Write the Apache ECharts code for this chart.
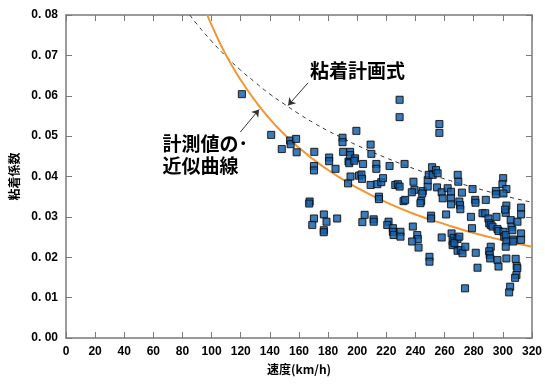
<!DOCTYPE html>
<html>
<head>
<meta charset="utf-8">
<script src="https://cdn.jsdelivr.net/npm/echarts@6/dist/echarts.min.js"></script>
<style>
  html, body { margin: 0; padding: 0; background: #fff; }
  #chart { width: 545px; height: 388px; }
</style>
</head>
<body>
<div id="chart"></div>
<script>
// 計測値 (速度 km/h, 粘着係数)
const measured = [
  [120.8, 0.0604],
  [140.9, 0.0503], [148.2, 0.0468], [153.9, 0.0489], [154.3, 0.0480], [158.0, 0.0493], [158.4, 0.0460],
  [170.5, 0.0461], [170.3, 0.0426], [170.3, 0.0415], [167.3, 0.0338], [167.0, 0.0333],
  [170.3, 0.0296], [169.1, 0.0280], [177.1, 0.0306], [178.9, 0.0288], [177.1, 0.0267], [177.0, 0.0262],
  [186.2, 0.0296], [180.7, 0.0447], [180.7, 0.0438], [185.1, 0.0419],
  [189.9, 0.0496], [189.9, 0.0485], [190.3, 0.0461],
  [194.0, 0.0437], [194.5, 0.0433], [193.7, 0.0383], [195.1, 0.0461], [195.1, 0.0453], [195.4, 0.0400],
  [199.4, 0.0513], [198.5, 0.0445], [198.0, 0.0439],
  [201.2, 0.0402], [202.9, 0.0405], [203.3, 0.0394], [204.0, 0.0431],
  [209.2, 0.0479], [209.7, 0.0456], [209.2, 0.0379],
  [213.1, 0.0431], [213.1, 0.0419], [213.8, 0.0381], [216.5, 0.0386], [217.7, 0.0396],
  [214.9, 0.0350], [214.9, 0.0344],
  [205.1, 0.0305], [203.5, 0.0287], [211.3, 0.0294], [211.3, 0.0288],
  [221.5, 0.0288], [220.6, 0.0280], [222.2, 0.0426], [224.5, 0.0272], [224.5, 0.0263], [225.0, 0.0255],
  [226.1, 0.0379], [227.9, 0.0381], [229.1, 0.0375],
  [229.1, 0.0590], [229.1, 0.0547], [229.7, 0.0263], [229.7, 0.0251],
  [232.5, 0.0431], [231.8, 0.0339], [232.9, 0.0342],
  [238.2, 0.0276], [238.6, 0.0387], [239.3, 0.0367], [237.5, 0.0361],
  [241.2, 0.0255], [241.6, 0.0245], [237.7, 0.0239], [242.1, 0.0224],
  [243.9, 0.0339], [243.4, 0.0334], [245.0, 0.0364], [244.6, 0.0358],
  [248.4, 0.0375], [248.4, 0.0391], [249.1, 0.0404], [251.4, 0.0423], [251.8, 0.0404],
  [254.1, 0.0416], [255.2, 0.0408], [254.8, 0.0373],
  [250.7, 0.0303], [250.7, 0.0296], [249.6, 0.0201], [249.6, 0.0189],
  [256.4, 0.0530], [256.4, 0.0508], [258.0, 0.0361], [258.7, 0.0346], [258.0, 0.0249],
  [261.0, 0.0306], [262.1, 0.0371], [264.4, 0.0362], [264.4, 0.0346], [264.4, 0.0331],
  [264.8, 0.0259], [266.2, 0.0248], [265.5, 0.0239], [265.5, 0.0230], [268.9, 0.0245], [266.7, 0.0235],
  [268.9, 0.0216], [269.0, 0.0404], [269.4, 0.0387], [270.1, 0.0338], [270.6, 0.0329], [270.8, 0.0319],
  [271.9, 0.0360], [270.1, 0.0251], [271.1, 0.0218], [272.3, 0.0210], [274.2, 0.0226],
  [274.0, 0.0123],
  [279.2, 0.0369], [278.1, 0.0300], [278.8, 0.0272], [281.0, 0.0342], [281.2, 0.0335],
  [281.4, 0.0211], [282.6, 0.0174],
  [286.0, 0.0309], [287.9, 0.0309], [288.3, 0.0342],
  [290.1, 0.0296], [290.6, 0.0284], [291.7, 0.0280], [292.9, 0.0276],
  [291.7, 0.0226], [290.6, 0.0215], [291.0, 0.0206], [291.3, 0.0197],
  [295.2, 0.0364], [295.2, 0.0356], [295.6, 0.0300], [296.3, 0.0270], [297.0, 0.0265],
  [296.3, 0.0193], [297.0, 0.0177],
  [300.2, 0.0396], [299.7, 0.0381], [302.4, 0.0369], [300.4, 0.0358],
  [302.4, 0.0328], [302.0, 0.0310], [301.5, 0.0318],
  [300.4, 0.0263], [300.9, 0.0251], [302.0, 0.0255], [302.4, 0.0239], [302.0, 0.0226],
  [302.4, 0.0197], [305.0, 0.0127], [304.3, 0.0113],
  [305.4, 0.0292], [305.9, 0.0276], [306.5, 0.0267], [307.0, 0.0244], [307.2, 0.0239],
  [308.8, 0.0196], [309.5, 0.0178], [309.9, 0.0173], [309.3, 0.0156], [308.4, 0.0149],
  [310.0, 0.0288],
  [312.5, 0.0323], [312.5, 0.0306], [312.5, 0.0259], [312.5, 0.0243]
];

// 計測値の近似曲線
const fitSpeeds = [97, 100, 110, 120, 130, 140, 150, 160, 170, 180, 190, 200, 220, 240, 260, 280, 300, 320];
const fitValues = [0.0800, 0.0775, 0.0700, 0.0639, 0.0587, 0.0542, 0.0504, 0.0471, 0.0442, 0.0416,
  0.0393, 0.0372, 0.0336, 0.0306, 0.0282, 0.0260, 0.0242, 0.0226];

// 粘着計画式
const planSpeeds = [85, 90, 100, 110, 120, 130, 140, 150, 160, 170, 180, 190, 200, 220, 240, 260, 280, 300, 320];
const planValues = [0.0800, 0.0777, 0.0735, 0.0697, 0.0663, 0.0633, 0.0604, 0.0579, 0.0555, 0.0533,
  0.0513, 0.0495, 0.0477, 0.0446, 0.0418, 0.0394, 0.0373, 0.0353, 0.0336];

const xTicks = [0, 20, 40, 60, 80, 100, 120, 140, 160, 180, 200, 220, 240, 260, 280, 300, 320];
const yTickLabels = ['0. 00', '0. 01', '0. 02', '0. 03', '0. 04', '0. 05', '0. 06', '0. 07', '0. 08'];

const axisColor = '#7a7a7a';
const labelFont = { color: '#000', fontFamily: 'Liberation Sans', fontWeight: 'bold', fontSize: 12 };

const chart = echarts.init(document.getElementById('chart'));

const frameAxis = {
  axisLine: { show: true, onZero: false, lineStyle: { color: axisColor, width: 1.5 } },
  axisTick: { show: true, inside: true, length: 6, lineStyle: { color: axisColor, width: 1 } },
  splitLine: { show: false }
};

const option = {
  backgroundColor: '#fff',
  animation: false,
  grid: { left: 65, right: 12, top: 15, bottom: 50 },
  xAxis: [
    {
      type: 'value', min: 0, max: 320, interval: 20, position: 'bottom',
      ...frameAxis,
      axisLabel: { ...labelFont, margin: 8, formatter: (v) => (xTicks.includes(v) ? String(v) : '') },
      name: '速度(km/h)', nameLocation: 'middle', nameGap: 25, nameMoveOverlap: false,
      nameTextStyle: { color: '#000', fontFamily: 'Noto Sans CJK JP', fontWeight: 'bold', fontSize: 12 }
    },
    {
      type: 'value', min: 0, max: 320, interval: 20, position: 'top',
      ...frameAxis,
      axisLabel: { show: false }
    }
  ],
  yAxis: [
    {
      type: 'value', min: 0, max: 0.08, interval: 0.01, position: 'left',
      ...frameAxis,
      axisLabel: { ...labelFont, margin: 8, formatter: (v) => yTickLabels[Math.round(v * 100)] },
      name: '粘着係数', nameLocation: 'middle', nameGap: 46, nameMoveOverlap: false,
      nameTextStyle: { color: '#000', fontFamily: 'Noto Sans CJK JP', fontWeight: 'bold', fontSize: 12 }
    },
    {
      type: 'value', min: 0, max: 0.08, interval: 0.01, position: 'right',
      ...frameAxis,
      axisLabel: { show: false }
    }
  ],
  series: [
    {
      name: '粘着計画式',
      type: 'line',
      data: planSpeeds.map((s, i) => [s, planValues[i]]),
      smooth: true,
      symbol: 'none',
      lineStyle: { color: '#333', width: 1, type: [4, 4] },
      z: 2
    },
    {
      name: '計測値の近似曲線',
      type: 'line',
      data: fitSpeeds.map((s, i) => [s, fitValues[i]]),
      smooth: true,
      symbol: 'none',
      lineStyle: { color: '#f39533', width: 2 },
      z: 3
    },
    {
      name: '計測値',
      type: 'scatter',
      data: measured,
      symbol: 'rect',
      symbolSize: 7,
      itemStyle: {
        color: '#1766b4',
        borderColor: '#0a0a0a',
        borderWidth: 1,
        shadowBlur: 1.5,
        shadowColor: 'rgba(0,0,0,0.25)'
      },
      z: 4
    },
    {
      // 注釈の矢印
      type: 'lines',
      coordinateSystem: 'cartesian2d',
      symbol: ['none', 'arrow'],
      symbolSize: 7,
      lineStyle: { color: '#333', width: 1, opacity: 1 },
      data: [
        { coords: [[166.2, 0.0632], [152.5, 0.0576]] },
        { coords: [[119.7, 0.0510], [132.6, 0.0566]] }
      ],
      z: 5
    }
  ]
};

chart.setOption(option);

// 注釈テキスト
const p1 = chart.convertToPixel({ gridIndex: 0 }, [167.5, 0.0659]);
const p2 = chart.convertToPixel({ gridIndex: 0 }, [66.3, 0.0508]);
const noteFont = { fontFamily: 'Noto Sans CJK JP', fontWeight: 'bold', fontSize: 19, fill: '#000' };
chart.setOption({
  graphic: [
    {
      type: 'text', left: p1[0], top: p1[1] - 11,
      style: { text: '粘着計画式', ...noteFont }
    },
    {
      type: 'text', left: p2[0], top: p2[1],
      style: { text: '計測値の･\n近似曲線', lineHeight: 22, ...noteFont }
    }
  ]
});
</script>
</body>
</html>
